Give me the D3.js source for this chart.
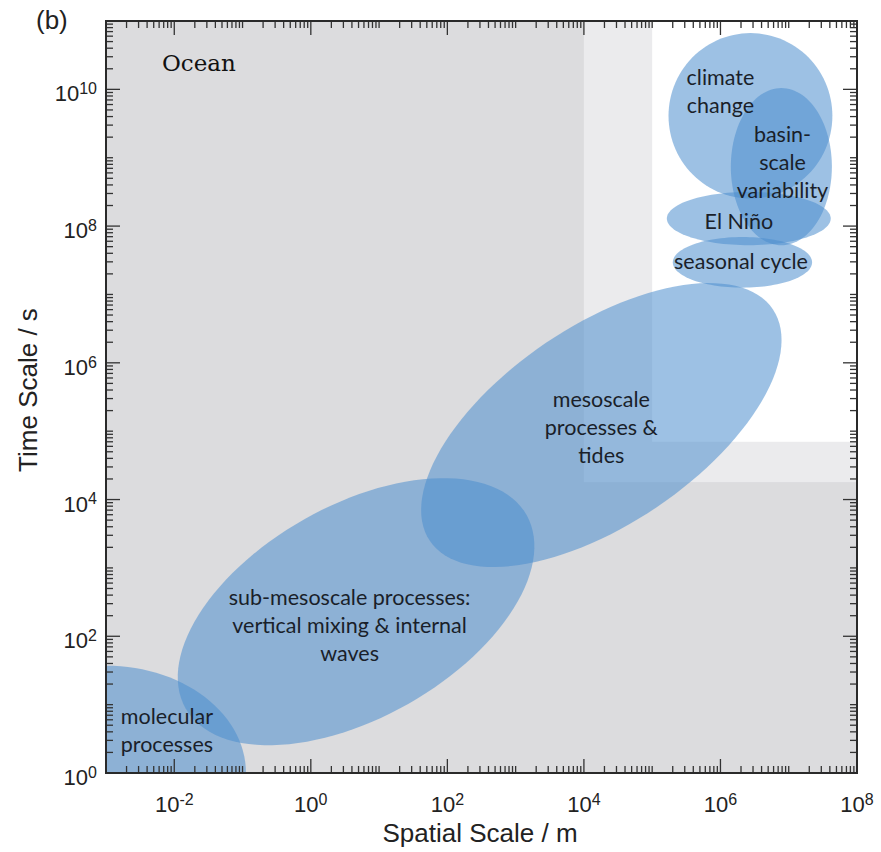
<!DOCTYPE html>
<html>
<head>
<meta charset="utf-8">
<script src="https://cdn.jsdelivr.net/npm/d3@7"></script>
<style>
  body { margin: 0; background: #fff; }
  svg { display: block; }
</style>
</head>
<body>
<svg id="chart" width="881" height="852"></svg>
<script>
// Ocean process scales (log10 spans)
const processNames = ["molecular", "sub-mesoscale", "mesoscale", "climate", "basin", "elnino", "seasonal"];
const centerSpace = [1e-3, 4.6, 1.8e4, 2.75e6, 7.8e6, 2.6e6, 2.1e6];     // m
const centerTime = [1, 229, 1.23e5, 4.1e9, 7.4e8, 1.29e8, 2.95e7];       // s
const halfSpanSpace = [2.05, 2.87, 3.03, 1.2, 0.74, 1.2, 1.02];          // decades
const halfSpanTime = [1.57, 1.55, 1.45, 1.21, 1.15, 0.39, 0.37];         // decades
const tilt = [0, 29.5, 34, 0, 0, 0, 0];                                  // degrees

const labelLines = [
    ["molecular", "processes"],
    ["sub-mesoscale processes:", "vertical mixing & internal", "waves"],
    ["mesoscale", "processes &", "tides"],
    ["climate", "change"],
    ["basin-", "scale", "variability"],
    ["El Niño"],
    ["seasonal cycle"]
];
const labelSpace = [7.8e-3, 3.7, 1.8e4, 1e6, 8.1e6, 1.86e6, 2.0e6];
const labelTime = [4.0, 141, 1.1e5, 8.9e9, 8.3e8, 1.14e8, 2.95e7];

// shaded background zones (lower-left corner of each zone)
const zoneSpace = [1e4, 1e5];
const zoneTime = [1.8e4, 7e4];
const zoneFill = ["#ebebed", "#ffffff"];

const xDecades = d3.range(-3, 9);   // 1e-3 .. 1e8
const yDecades = d3.range(0, 12);   // 1e0 .. 1e11

const margin = { top: 21, right: 24, bottom: 79, left: 106 };
const width = 881 - margin.left - margin.right;
const height = 852 - margin.top - margin.bottom;

const svg = d3.select("#chart");
const g = svg.append("g").attr("transform", `translate(${margin.left},${margin.top})`);

const x = d3.scaleLog().domain([1e-3, 1e8]).range([0, width]);
const y = d3.scaleLog().domain([1, 1e11]).range([height, 0]);

g.append("clipPath").attr("id", "plotClip")
    .append("rect").attr("width", width).attr("height", height);

// plot background and zones
g.append("rect").attr("width", width).attr("height", height).attr("fill", "#dcdcde");
g.selectAll(".zone")
    .data(zoneSpace)
    .enter().append("rect")
    .attr("class", "zone")
    .attr("x", (d) => x(d))
    .attr("y", 0)
    .attr("width", (d) => width - x(d))
    .attr("height", (d, i) => y(zoneTime[i]))
    .attr("fill", (d, i) => zoneFill[i]);

// ellipses drawn in log space, then pushed through the scales
function ellipsePath(i) {
    const lx = Math.log10(centerSpace[i]), ly = Math.log10(centerTime[i]);
    const a = halfSpanSpace[i], b = halfSpanTime[i];
    const t = tilt[i] * Math.PI / 180;
    const pts = d3.range(0, 361, 3).map((deg) => {
        const p = deg * Math.PI / 180;
        const ex = a * Math.cos(p), ey = b * Math.sin(p);
        const u = ex * Math.cos(t) - ey * Math.sin(t);
        const v = ex * Math.sin(t) + ey * Math.cos(t);
        return [x(Math.pow(10, lx + u)), y(Math.pow(10, ly + v))];
    });
    return d3.line()(pts) + "Z";
}

g.append("g")
    .attr("clip-path", "url(#plotClip)")
    .selectAll("path")
    .data(processNames)
    .enter().append("path")
    .attr("d", (d, i) => ellipsePath(i))
    .attr("fill", "rgb(76,142,205)")
    .attr("fill-opacity", 0.55);

// process labels
const lineGap = 28;
labelLines.forEach((lines, i) => {
    const cx = x(labelSpace[i]), cy = y(labelTime[i]);
    const t = g.append("text")
        .attr("text-anchor", "middle")
        .style("font-family", "Lato, 'Open Sans', sans-serif")
        .style("font-size", "21.5px")
        .style("fill", "#1a1f2a");
    lines.forEach((line, k) => {
        t.append("tspan")
            .attr("x", cx)
            .attr("y", cy + (k - (lines.length - 1) / 2) * lineGap)
            .attr("dy", "0.3em")
            .text(line);
    });
});

g.append("text")
    .attr("x", 56)
    .attr("y", 50)
    .style("font-family", "'DejaVu Serif', serif")
    .style("font-size", "23px")
    .style("fill", "#111")
    .text("Ocean");

// ticks on all four sides, pointing inward
const ticks = g.append("g").attr("stroke", "#333").attr("stroke-width", 1.3);
function tickValues(decades, maxV) {
    const out = [];
    decades.forEach((e) => {
        for (let m = 1; m < 10; m++) out.push({ v: m * Math.pow(10, e), major: m === 1 && e % 2 === 0 });
    });
    return out.filter((d) => d.v <= maxV);
}
tickValues(xDecades, 1e8).forEach((d) => {
    const len = d.major ? 14 : 7;
    ticks.append("line").attr("x1", x(d.v)).attr("x2", x(d.v)).attr("y1", height).attr("y2", height - len);
    ticks.append("line").attr("x1", x(d.v)).attr("x2", x(d.v)).attr("y1", 0).attr("y2", len);
});
tickValues(yDecades, 1e11).forEach((d) => {
    const len = d.major ? 14 : 7;
    ticks.append("line").attr("y1", y(d.v)).attr("y2", y(d.v)).attr("x1", 0).attr("x2", len);
    ticks.append("line").attr("y1", y(d.v)).attr("y2", y(d.v)).attr("x1", width).attr("x2", width - len);
});

g.append("rect")
    .attr("width", width).attr("height", height)
    .attr("fill", "none").attr("stroke", "#2a2a2a").attr("stroke-width", 2);

// tick labels
const labelFont = "'Liberation Sans', Arial, sans-serif";
function powerLabel(sel, e) {
    sel.append("tspan").text("10");
    sel.append("tspan").attr("dy", "-0.45em").style("font-size", "16px").text(e);
}
xDecades.filter((e) => e % 2 === 0).forEach((e) => {
    const t = g.append("text")
        .attr("x", x(Math.pow(10, e)))
        .attr("y", height + 39)
        .attr("text-anchor", "middle")
        .style("font-family", labelFont)
        .style("font-size", "22px")
        .style("fill", "#222");
    powerLabel(t, e);
});
yDecades.filter((e) => e % 2 === 0 && e <= 10).forEach((e) => {
    const t = g.append("text")
        .attr("x", -9)
        .attr("y", y(Math.pow(10, e)) + 12)
        .attr("text-anchor", "end")
        .style("font-family", labelFont)
        .style("font-size", "22px")
        .style("fill", "#222");
    powerLabel(t, e);
});

// axis titles
svg.append("text")
    .attr("x", 480)
    .attr("y", 842)
    .attr("text-anchor", "middle")
    .style("font-family", labelFont)
    .style("font-size", "26px")
    .style("fill", "#222")
    .text("Spatial Scale / m");

svg.append("text")
    .attr("transform", "translate(37,390) rotate(-90)")
    .attr("text-anchor", "middle")
    .style("font-family", labelFont)
    .style("font-size", "26px")
    .style("fill", "#222")
    .text("Time Scale / s");

svg.append("text")
    .attr("x", 36)
    .attr("y", 29)
    .style("font-family", labelFont)
    .style("font-size", "26px")
    .style("fill", "#222")
    .text("(b)");
</script>
</body>
</html>
